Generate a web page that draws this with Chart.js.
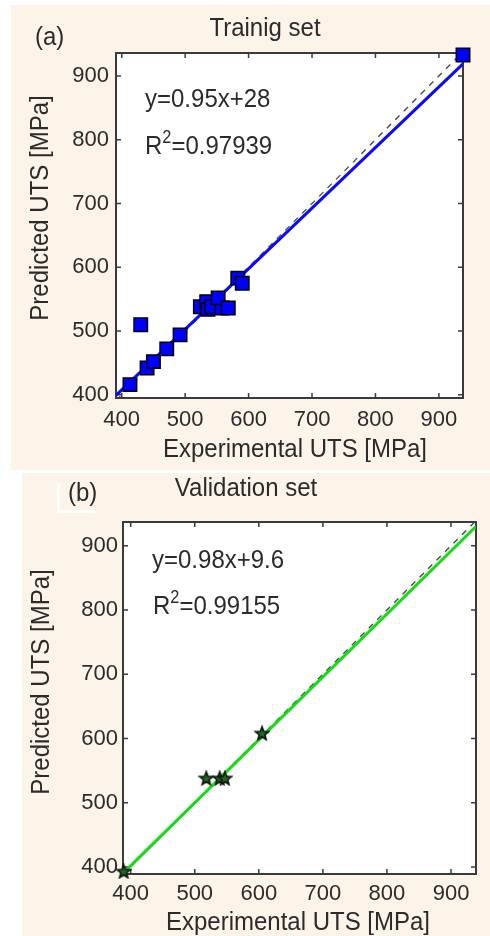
<!DOCTYPE html>
<html>
<head>
<meta charset="utf-8">
<script src="https://cdn.jsdelivr.net/npm/chart.js@4.4.1/dist/chart.umd.min.js"></script>
<style>
  html, body { margin: 0; padding: 0; background: #fff; }
  body { width: 490px; height: 936px; position: relative; overflow: hidden;
         font-family: "Liberation Sans", Arial, sans-serif; color: #2b2b2b; }
  .bg { position: absolute; background: #fcf4e9; }
  .wht { position: absolute; background: #fff; }
  .panel { position: absolute; left: 0; }
  .txt { position: absolute; white-space: nowrap; line-height: 1; font-size: 24px; }
  .c { transform: translate(-50%, -50%) scaleY(1.1); }
  .l { transform: translateY(-50%) scaleY(1.1); }
  .rot { transform: translate(-50%, -50%) rotate(-90deg) scaleY(1.05); }
  sup { font-size: 0.68em; line-height: 0; vertical-align: 0.6em; }
</style>
</head>
<body>

<!-- backgrounds -->
<div class="bg" style="left:11px; top:5px; width:479px; height:465px;"></div>
<div class="bg" style="left:22px; top:473px; width:468px; height:463px;"></div>
<div class="wht" style="left:57px; top:483px; width:3px; height:30px;"></div>
<div class="wht" style="left:57px; top:510px; width:38px; height:3px;"></div>

<div class="panel" style="top:0; width:490px; height:470px;"><canvas id="chartA" width="490" height="470"></canvas></div>
<div class="panel" style="top:470px; width:490px; height:466px;"><canvas id="chartB" width="490" height="466"></canvas></div>

<!-- (a) texts -->
<div class="txt l" style="left:35px; top:36px;">(a)</div>
<div class="txt c" style="left:265px; top:27px;">Trainig set</div>
<div class="txt l" style="left:145px; top:98px;">y=0.95x+28</div>
<div class="txt l" style="left:145px; top:145px;">R<sup>2</sup>=0.97939</div>
<div class="txt rot" style="left:40px; top:208px;">Predicted UTS [MPa]</div>
<div class="txt c" style="left:295px; top:448px;">Experimental UTS [MPa]</div>

<!-- (b) texts -->
<div class="txt l" style="left:68px; top:492px;">(b)</div>
<div class="txt c" style="left:246px; top:487px;">Validation set</div>
<div class="txt l" style="left:152px; top:559px;">y=0.98x+9.6</div>
<div class="txt l" style="left:153px; top:605px;">R<sup>2</sup>=0.99155</div>
<div class="txt rot" style="left:41px; top:682px;">Predicted UTS [MPa]</div>
<div class="txt c" style="left:298px; top:921px;">Experimental UTS [MPa]</div>

<script>
// ---- tick values (both panels) ----
const xTicks = [400, 500, 600, 700, 800, 900];
const yTicks = [400, 500, 600, 700, 800, 900];

// ---- (a) training set ----
const trainExp  = [413, 430, 440, 450, 471, 492, 524, 534, 536, 542, 558, 552, 568, 583, 590, 938];
const trainPred = [416, 510, 442, 452, 472, 494, 538, 546, 534, 538, 536, 552, 536, 583, 575, 933];
const trainFitX = [391, 938];
const trainFitY = [399, 919];
const trainDiag = [391, 938];

// ---- (b) validation set ----
const valExp  = [389, 518, 539, 547, 605];
const valPred = [393, 538, 538, 538, 608];
const valFitX = [388, 939];
const valFitY = [390, 930];
const valDiag = [388, 939];

const FONT = '"Liberation Sans", Arial, sans-serif';

function toPoints(xs, ys) {
  return xs.map((x, i) => ({ x: x, y: ys[i] }));
}

// filled five point star used as marker in (b)
function starImage() {
  const c = document.createElement('canvas');
  c.width = 16; c.height = 16;
  const g = c.getContext('2d');
  g.beginPath();
  for (let i = 0; i < 10; i++) {
    const r = i % 2 ? 3 : 7;
    const a = -Math.PI / 2 + i * Math.PI / 5;
    g.lineTo(8 + r * Math.cos(a), 8.5 + r * Math.sin(a));
  }
  g.closePath();
  g.fillStyle = '#1d6b1d';
  g.fill();
  g.lineWidth = 1.6;
  g.strokeStyle = '#111';
  g.stroke();
  return c;
}

// white plot area, box frame and inner ticks on all four sides
const boxPlugin = {
  id: 'box',
  beforeDatasetsDraw(chart) {
    const { ctx, chartArea: a, scales } = chart;
    ctx.save();
    ctx.fillStyle = '#fff';
    ctx.fillRect(a.left, a.top, a.right - a.left, a.bottom - a.top);
    ctx.strokeStyle = '#3a3a3a';
    ctx.lineWidth = 1.5;
    ctx.beginPath();
    xTicks.forEach(v => {
      const px = scales.x.getPixelForValue(v);
      ctx.moveTo(px, a.bottom); ctx.lineTo(px, a.bottom - 5);
      ctx.moveTo(px, a.top);    ctx.lineTo(px, a.top + 5);
    });
    yTicks.forEach(v => {
      const py = scales.y.getPixelForValue(v);
      ctx.moveTo(a.left, py);  ctx.lineTo(a.left + 5, py);
      ctx.moveTo(a.right, py); ctx.lineTo(a.right - 5, py);
    });
    ctx.stroke();
    ctx.lineWidth = 2;
    ctx.strokeRect(a.left, a.top, a.right - a.left, a.bottom - a.top);
    ctx.restore();
  }
};

function makeChart(id, cfg) {
  new Chart(document.getElementById(id), {
    type: 'scatter',
    data: {
      datasets: [
        {
          type: 'scatter',
          data: toPoints(cfg.xs, cfg.ys),
          pointStyle: cfg.pointStyle,
          pointRadius: cfg.pointRadius,
          backgroundColor: cfg.pointColor,
          borderColor: '#000',
          borderWidth: 1.5,
          clip: false,
          order: 0
        },
        {
          type: 'line',
          data: toPoints(cfg.fitX, cfg.fitY),
          borderColor: cfg.lineColor,
          borderWidth: 3,
          pointRadius: 0,
          fill: false,
          order: 1
        },
        {
          type: 'line',
          data: toPoints(cfg.diag, cfg.diag),
          borderColor: '#444',
          borderWidth: 1.3,
          borderDash: [6, 6],
          pointRadius: 0,
          fill: false,
          order: 2
        }
      ]
    },
    options: {
      responsive: false,
      devicePixelRatio: 1,
      animation: false,
      events: [],
      layout: { padding: { left: 0, right: cfg.padRight, top: cfg.padTop, bottom: 0 } },
      plugins: { legend: { display: false }, tooltip: { enabled: false } },
      scales: {
        x: {
          type: 'linear',
          min: cfg.xMin, max: cfg.xMax,
          afterBuildTicks: s => { s.ticks = xTicks.map(v => ({ value: v })); },
          afterFit: s => { s.height = cfg.xAxisH; },
          grid: { display: false, drawTicks: false },
          border: { display: false },
          ticks: { padding: cfg.xPad, color: '#2b2b2b', font: { size: 22, family: FONT } }
        },
        y: {
          type: 'linear',
          min: cfg.yMin, max: cfg.yMax,
          afterBuildTicks: s => { s.ticks = yTicks.map(v => ({ value: v })); },
          afterFit: s => { s.width = cfg.yAxisW; },
          grid: { display: false, drawTicks: false },
          border: { display: false },
          ticks: { padding: cfg.yPad, color: '#2b2b2b', font: { size: 22, family: FONT } }
        }
      }
    },
    plugins: [boxPlugin]
  });
}

makeChart('chartA', {
  xs: trainExp, ys: trainPred,
  fitX: trainFitX, fitY: trainFitY, diag: trainDiag,
  pointStyle: 'rect', pointRadius: 9.5, pointColor: '#0000ff',
  lineColor: '#0a0aff',
  xMin: 391, xMax: 938, yMin: 395, yMax: 936,
  padTop: 53, padRight: 27, yAxisW: 116, xAxisH: 72,
  xPad: 9, yPad: 7
});

makeChart('chartB', {
  xs: valExp, ys: valPred,
  fitX: valFitX, fitY: valFitY, diag: valDiag,
  pointStyle: starImage(), pointRadius: 7, pointColor: '#1d6b1d',
  lineColor: '#11dd11',
  xMin: 388, xMax: 939, yMin: 389, yMax: 937,
  padTop: 52, padRight: 14, yAxisW: 123, xAxisH: 62,
  xPad: 7, yPad: 5
});
</script>
</body>
</html>
